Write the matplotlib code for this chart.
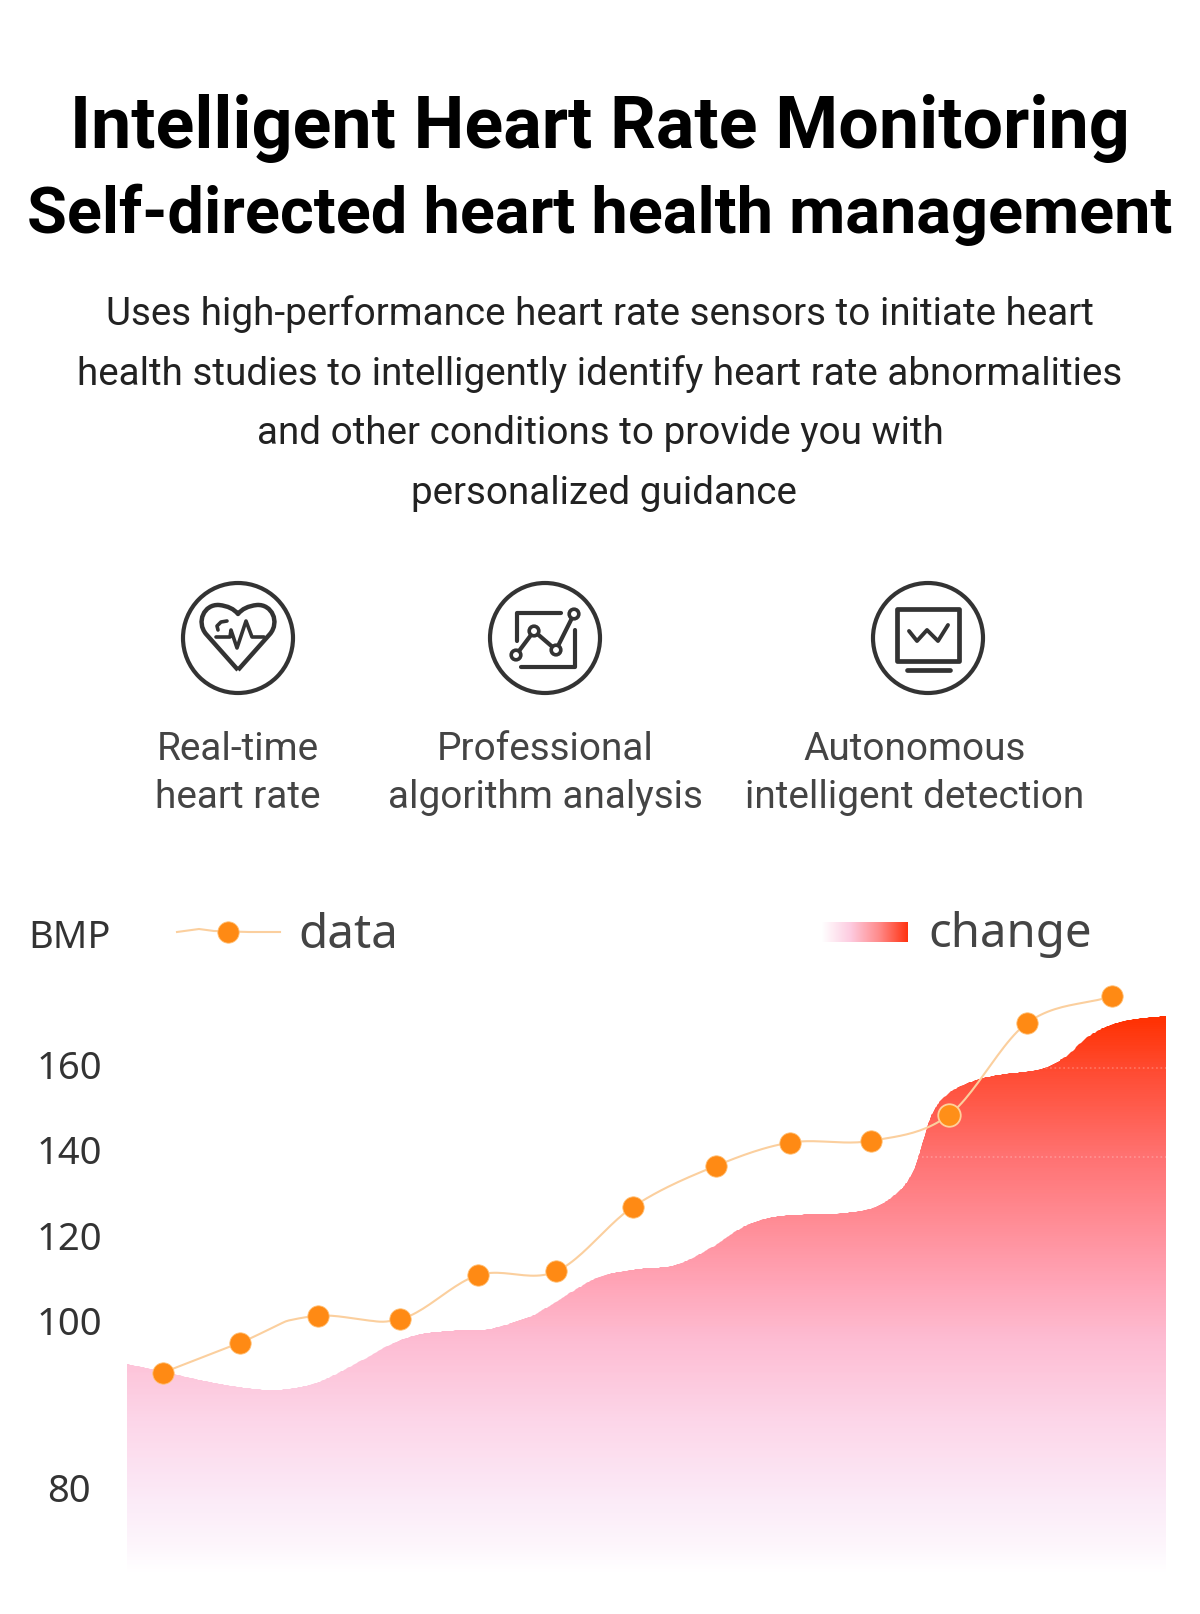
"""
Intelligent heart rate monitoring poster
"""

import numpy as np
import matplotlib
matplotlib.use("Agg")
import matplotlib.pyplot as plt
from matplotlib.colors import LinearSegmentedColormap
from matplotlib.patches import Circle, PathPatch, Rectangle
from matplotlib.path import Path

plt.rcParams['font.family'] = ['Roboto', 'DejaVu Sans']

# ====================
# data
# ====================
title_lines = ["Intelligent Heart Rate Monitoring", "Self-directed heart health management"]
body_lines = [
    "Uses high-performance heart rate sensors to initiate heart",
    "health studies to intelligently identify heart rate abnormalities",
    "and other conditions to provide you with",
    "personalized guidance",
]
feature_labels = ["Real-time\nheart rate", "Professional\nalgorithm analysis", "Autonomous\nintelligent detection"]

bpm_ticks = [80, 100, 120, 140, 160]
grid_levels = [138.4, 159.2]
data_x = [0, 0.98, 1.96, 3.0, 3.98, 4.97, 5.94, 6.99, 7.92, 8.94, 9.93, 10.91, 11.98]
data_y = [93.8, 97.4, 101.2, 100.4, 110.7, 111.6, 126.7, 136.3, 141.7, 142.1, 148.2, 169.6, 175.9]

change_x = [-0.447, 0.008, 0.513, 0.934, 1.439, 1.944, 2.407, 2.912, 3.249, 3.669, 4.174,
            4.638, 5.101, 5.522, 6.01, 6.48, 6.95, 7.38, 7.81, 8.58, 9.01, 9.315,
            9.485, 9.592, 9.70, 9.87, 10.214, 10.558, 11.075, 11.373, 11.719, 12.106, 12.668]
change_y = [94.85, 93.93, 92.85, 92.13, 91.74, 92.61, 94.73, 97.33, 98.41, 98.84, 99.13,
            101.0, 106.08, 110.36, 112.16, 113.1, 117.38, 122.46, 124.56, 125.19, 126.74, 130.64,
            135.32, 141.57, 147.79, 152.47, 155.98, 157.54, 158.88, 161.45, 166.9, 170.0, 171.35]

gradient_stops = [(0.0, "#ffffff"), (0.04, "#fdf7fc"), (0.133, "#fbeaf7"), (0.276, "#fcd5e8"),
                  (0.419, "#fdbcd2"), (0.527, "#ffa3b5"), (0.747, "#ff7272"), (0.907, "#ff4a30"),
                  (1.0, "#ff3000")]

INK = "#333333"
W, H = 1200, 1614


def smooth(x, y, steps=24):
    # hermite through the read points, for the rounded look of the lines
    x, y = np.asarray(x, float), np.asarray(y, float)
    mx = np.zeros_like(y)
    mx[1:-1] = (y[2:] - y[:-2]) / (x[2:] - x[:-2])
    mx[0] = (y[1] - y[0]) / (x[1] - x[0])
    mx[-1] = (y[-1] - y[-2]) / (x[-1] - x[-2])
    xs, ys = [], []
    for i in range(len(x) - 1):
        h = x[i + 1] - x[i]
        t = np.linspace(0, 1, steps, endpoint=False)
        ys.append((2*t**3 - 3*t**2 + 1)*y[i] + (t**3 - 2*t**2 + t)*h*mx[i]
                  + (-2*t**3 + 3*t**2)*y[i + 1] + (t**3 - t**2)*h*mx[i + 1])
        xs.append(x[i] + t*h)
    return np.r_[np.concatenate(xs), x[-1]], np.r_[np.concatenate(ys), y[-1]]


# the original axis is uneven: 80-100 takes twice the room of the others
def bpm_fwd(v):
    return np.interp(v, [60, 100, 200], [0, 334, 761.5])


def bpm_inv(p):
    return np.interp(p, [0, 334, 761.5], [60, 100, 200])


fig = plt.figure(figsize=(W / 100, H / 100), dpi=100, facecolor='white')

# ====================
# chart
# ====================
left, right, top, bottom = 127.3, 1166, 960, 1574
ax = fig.add_axes([left / W, 1 - bottom / H, (right - left) / W, (bottom - top) / H])
ax.set_yscale('function', functions=(bpm_fwd, bpm_inv))
ax.set_xlim(change_x[0], change_x[-1])
ax.set_ylim(69.7, 184.4)
ax.patch.set_alpha(0)
for s in ax.spines.values():
    s.set_visible(False)
ax.set_xticks([])
ax.set_yticks(bpm_ticks)
ax.tick_params(axis='y', length=0, pad=41.8, labelsize=27.5, labelcolor=INK)
for lab in ax.get_yticklabels():
    lab.set_ha('center')
    lab.set_family(['Noto Sans', 'DejaVu Sans'])

cx, cy = smooth(change_x, change_y)
verts = np.column_stack([np.r_[cx, cx[-1], cx[0]], np.r_[cy, 69.7, 69.7]])
area_path = Path(verts)

edges = np.linspace(69.7, max(change_y), 500)
centers = (edges[:-1] + edges[1:]) / 2
shade = (bpm_fwd(centers) - bpm_fwd(69.7)) / (bpm_fwd(max(change_y)) - bpm_fwd(69.7))
cmap = LinearSegmentedColormap.from_list("change", gradient_stops)
mesh = ax.pcolormesh([change_x[0], change_x[-1]], edges, shade[:, None], cmap=cmap,
                     vmin=0, vmax=1, shading='flat', antialiased=False, zorder=1)
clip = PathPatch(area_path, transform=ax.transData, fc='none', ec='none')
mesh.set_clip_path(clip)

for lvl in grid_levels:
    ln, = ax.plot([change_x[0], change_x[-1]], [lvl, lvl], color='white', lw=1.2, ls=':', alpha=0.25, zorder=2)
    ln.set_clip_path(clip)

lx, ly = smooth(data_x, data_y)
ax.plot(lx, ly, color="#fbcf9e", lw=1.5, zorder=3)
ax.plot(data_x, data_y, ls='none', marker='o', ms=15.4, mfc="#ff8a14", mec="#ffc27a", mew=0.6, zorder=4)
ax.plot(data_x[10], data_y[10], ls='none', marker='o', ms=16.2, mfc="#ff8f18", mec="#ffd09a", mew=1.3, zorder=5)

# ====================
# overlay in pixels: text, icons, legend
# ====================
ov = fig.add_axes([0, 0, 1, 1], zorder=5)
ov.set_xlim(0, W)
ov.set_ylim(H, 0)
ov.axis('off')
ov.patch.set_alpha(0)

ov.text(600, 148.3, title_lines[0], ha='center', va='baseline', fontsize=51.7, fontweight='bold', color='black')
ov.text(600, 232.7, title_lines[1], ha='center', va='baseline', fontsize=46.7, fontweight='bold', color='black')
body_x = [600, 600, 600, 604]
for x, y, line in zip(body_x, [314, 374, 434, 494], body_lines):
    ov.text(x, y, line, ha='center', va='center', fontsize=27.8, color="#222222")

icon_x = [238, 545, 928]
icon_y = 638
label_x = [238, 545, 915]
for x0, lx0, lab in zip(icon_x, label_x, feature_labels):
    ov.add_patch(Circle((x0, icon_y), 55, fc='none', ec=INK, lw=3))
    l1, l2 = lab.split("\n")
    ov.text(lx0, 750, l1, ha='center', va='center', fontsize=27.9, color="#444444")
    ov.text(lx0, 798, l2, ha='center', va='center', fontsize=27.9, color="#444444")


def stroke(x0, pts, lw=3):
    pts = np.asarray(pts, float)
    ov.plot(x0 + pts[:, 0], icon_y + pts[:, 1], color=INK, lw=lw,
            solid_capstyle='round', solid_joinstyle='round')


# heart
x0 = icon_x[0]
M, L, C = Path.MOVETO, Path.LINETO, Path.CURVE4
heart = [(0, 32), (-32, -4), (-42, -16), (-34, -34), (-19, -33), (-10, -32), (-4, -29), (0, -24),
         (4, -29), (10, -32), (19, -33), (34, -34), (42, -16), (32, -4), (0, 32)]
heart_codes = [M, L, C, C, C, C, C, C, C, C, C, C, C, C, L]
ov.add_patch(PathPatch(Path(np.array(heart) + [x0, icon_y], heart_codes), fc='none', ec=INK, lw=3.2, joinstyle='round'))
stroke(x0, [(-22, -1), (-8, -1), (-7, -8), (-1, 10), (8, -17), (14, -1), (26, -1)], lw=2.6)
stroke(x0, [(-11, -17), (-17, -16), (-21, -12), (-20, -8)], lw=2.6)

# chart
x0 = icon_x[1]
stroke(x0, [(16, -25), (-28, -25), (-28, 3)])
stroke(x0, [(30, -8), (30, 29), (-24, 29)])
stroke(x0, [(-29, 17), (-11, -7), (11, 12), (29, -24)])
for p in [(-29, 17), (-11, -7), (11, 12), (29, -24)]:
    ov.add_patch(Circle((x0 + p[0], icon_y + p[1]), 4.8, fc='white', ec=INK, lw=2.6, zorder=4))

# monitor
x0 = icon_x[2]
ov.add_patch(Rectangle((x0 - 31, icon_y - 29), 62, 52, fc='none', ec=INK, lw=3.4, joinstyle='round'))
stroke(x0, [(-21, 32), (22, 32)], lw=3.4)
stroke(x0, [(-19, -7), (-11, 3), (-1, -8), (10, 3), (20, -13)], lw=2.8)

# legend
ov.text(28, 938, "BMP", ha='left', va='center', fontsize=27.4, color=INK, family=['Noto Sans', 'DejaVu Sans'])
ov.plot([177, 199, 214, 249, 280], [932, 929, 931, 932, 932], color="#fbcf9e", lw=1.5)
ov.plot([228], [932], ls='none', marker='o', ms=15.4, mfc="#ff8a14", mec="#ffc27a", mew=0.6)
ov.text(298, 936, "data", ha='left', va='center', fontsize=34.3, color="#444444", family=['Noto Sans', 'DejaVu Sans'])
ramp = LinearSegmentedColormap.from_list("ramp", ["#ffffff", "#fdcbe0", "#ff8a8a", "#ff3210"])
ov.imshow(np.linspace(0, 1, 256)[None, :], cmap=ramp, extent=(822, 908, 942, 922), aspect='auto', zorder=2)
ov.set_xlim(0, W)
ov.set_ylim(H, 0)
ov.text(928, 935, "change", ha='left', va='center', fontsize=34.1, color="#444444", family=['Noto Sans', 'DejaVu Sans'])

fig.savefig("out.png", dpi=100, facecolor='white')
